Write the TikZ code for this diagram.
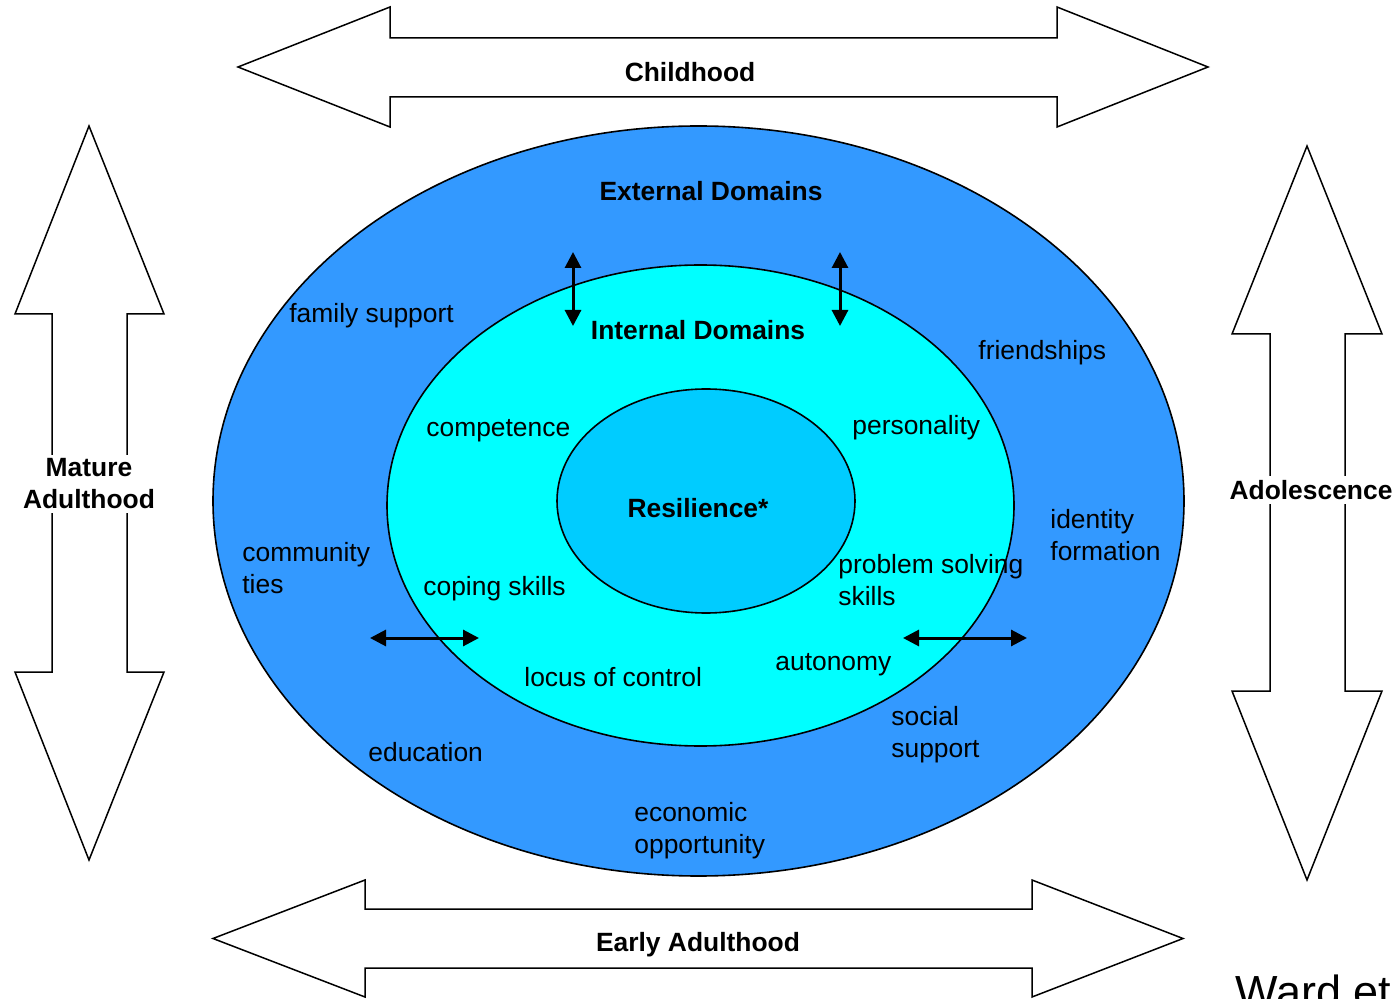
\documentclass[tikz,border=0pt]{standalone}
\usepackage{fontspec}
\setmainfont{Liberation Sans}
\usetikzlibrary{shapes.geometric,arrows.meta}
\definecolor{outerblue}{HTML}{3399FF}
\definecolor{midcyan}{HTML}{00FFFF}
\definecolor{innerblue}{HTML}{00CCFF}
\tikzset{
  blockarrow/.style={draw=black, line width=0.75pt, fill=white, line join=miter},
  ring/.style={ellipse, draw=black, line width=0.8pt, inner sep=0pt},
  lbl/.style={font=\fontsize{13.2}{16}\selectfont, inner sep=0pt, anchor=west, align=left},
  title/.style={font=\fontsize{13.2}{16}\selectfont\bfseries, inner sep=0pt, align=center},
  stagelbl/.style={font=\fontsize{13.2}{16}\selectfont\bfseries, fill=white, inner sep=2pt, align=center},
  link/.style={line width=1.5pt, {Triangle[length=8pt,width=8pt]}-{Triangle[length=8pt,width=8pt]}}
}
\begin{document}
\begin{tikzpicture}[x=0.5pt,y=-0.5pt]
\useasboundingbox (0,0) rectangle (1397,999);

% life-stage block arrows
\draw[blockarrow] (238,67) -- (390,7) -- (390,38) -- (1057,38) -- (1057,7) -- (1208,67)
  -- (1057,127) -- (1057,97) -- (390,97) -- (390,127) -- cycle;
\draw[blockarrow] (213,938.5) -- (365,880) -- (365,909) -- (1032,909) -- (1032,880) -- (1183,938.5)
  -- (1032,997) -- (1032,968) -- (365,968) -- (365,997) -- cycle;
\draw[blockarrow] (89,126) -- (164,314) -- (127,314) -- (127,672) -- (164,672) -- (89,860)
  -- (15,672) -- (52,672) -- (52,314) -- (15,314) -- cycle;
\draw[blockarrow] (1307,146) -- (1382,334) -- (1345,334) -- (1345,691) -- (1382,691) -- (1307,880)
  -- (1232,691) -- (1270,691) -- (1270,334) -- (1232,334) -- cycle;

\node[title] (childhood) at (690,72) {Childhood};
\node[title] (early) at (698,945) {Early Adulthood};
\node[stagelbl] (mature) at (89,484) {Mature\\Adulthood};
\node[stagelbl] (adolescence) at (1311,490) {Adolescence};

% nested domains
\node[ring, fill=outerblue, minimum width=485.5pt, minimum height=375pt] (external) at (698.5,501) {};
\node[ring, fill=midcyan, minimum width=313.5pt, minimum height=240.5pt] (internal) at (700.5,505.5) {};
\node[ring, fill=innerblue, minimum width=149pt, minimum height=112pt] (core) at (706,501) {};

\node[title] (exttitle) at (711,191) {External Domains};
\node[title] (inttitle) at (698,330) {Internal Domains};
\node[title] (resilience) at (698,508) {Resilience*};

% two-way links between the domains
\coordinate (va1) at (573,252); \coordinate (va2) at (573,326);
\coordinate (vb1) at (840,252); \coordinate (vb2) at (840,326);
\coordinate (ha1) at (370,638); \coordinate (ha2) at (479,638);
\coordinate (hb1) at (903,638); \coordinate (hb2) at (1027,638);
\draw[link] (va1) -- (va2);
\draw[link] (vb1) -- (vb2);
\draw[link] (ha1) -- (ha2);
\draw[link] (hb1) -- (hb2);

% external factors
\node[lbl] (family) at (289,316) {family support};
\node[lbl] (friends) at (978,353) {friendships};
\node[lbl] (identity) at (1050,535) {identity\\formation};
\node[lbl] (community) at (242,568) {community\\ties};
\node[lbl] (social) at (891,735) {social\\support};
\node[lbl] (education) at (368,752) {education};
\node[lbl] (economic) at (634,831) {economic\\opportunity};

% internal factors
\node[lbl] (competence) at (426,431) {competence};
\node[lbl] (personality) at (852,428) {personality};
\node[lbl] (coping) at (423,589) {coping skills};
\node[lbl] (problem) at (838,580) {problem solving\\skills};
\node[lbl] (locus) at (524,677) {locus of control};
\node[lbl] (autonomy) at (775,665) {autonomy};

% citation
\node[font=\fontsize{22.5}{27}\selectfont, inner sep=0pt, anchor=base west] (cite) at (1235,1007) {Ward et};
\end{tikzpicture}
\end{document}
